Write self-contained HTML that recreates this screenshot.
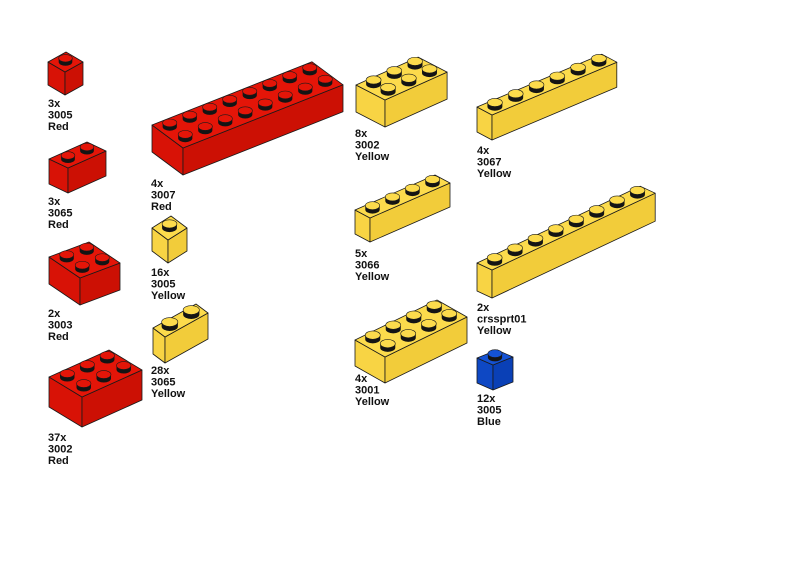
<!DOCTYPE html>
<html><head><meta charset="utf-8"><style>
html,body{margin:0;padding:0;background:#fff;width:800px;height:566px;overflow:hidden}
svg{display:block}
text{font-family:"Liberation Sans",Arial,sans-serif;font-weight:bold;font-size:11px;fill:#111}
</style></head><body>
<svg id="s" width="800" height="566" viewBox="0 0 800 566" xmlns="http://www.w3.org/2000/svg">
<g id="bricks"></g>
<g>
<text x="48" y="107">3x</text><text x="48" y="118.5">3005</text><text x="48" y="130">Red</text>
<text x="48" y="205">3x</text><text x="48" y="216.5">3065</text><text x="48" y="228">Red</text>
<text x="48" y="317">2x</text><text x="48" y="328.5">3003</text><text x="48" y="340">Red</text>
<text x="48" y="441">37x</text><text x="48" y="452.5">3002</text><text x="48" y="464">Red</text>
<text x="151" y="187">4x</text><text x="151" y="198.5">3007</text><text x="151" y="210">Red</text>
<text x="151" y="276">16x</text><text x="151" y="287.5">3005</text><text x="151" y="299">Yellow</text>
<text x="151" y="374">28x</text><text x="151" y="385.5">3065</text><text x="151" y="397">Yellow</text>
<text x="355" y="137">8x</text><text x="355" y="148.5">3002</text><text x="355" y="160">Yellow</text>
<text x="355" y="257">5x</text><text x="355" y="268.5">3066</text><text x="355" y="280">Yellow</text>
<text x="355" y="382">4x</text><text x="355" y="393.5">3001</text><text x="355" y="405">Yellow</text>
<text x="477" y="154">4x</text><text x="477" y="165.5">3067</text><text x="477" y="177">Yellow</text>
<text x="477" y="311">2x</text><text x="477" y="322.5">crssprt01</text><text x="477" y="334">Yellow</text>
<text x="477" y="402">12x</text><text x="477" y="413.5">3005</text><text x="477" y="425">Blue</text>
</g>
</svg>
<script>
var NS="http://www.w3.org/2000/svg",G=document.getElementById("bricks");
var C={r:["#e41508","#d81206","#cc1004"],y:["#fcdb4c","#f8d444","#f2cc3a"],b:["#1452d4","#0e48c4","#0a40b6"]};
function el(t,a){var e=document.createElementNS(NS,t);for(var k in a)e.setAttribute(k,a[k]);G.appendChild(e);return e;}
function P(pts){return pts.map(function(p){return p[0].toFixed(1)+","+p[1].toFixed(1)}).join(" ");}
function brick(F,a,b,na,nb,H,col){
 var c=C[col],st="#1a1a1a",sw=0.8;
 var R=[F[0]+na*a[0],F[1]+na*a[1]],L=[F[0]+nb*b[0],F[1]+nb*b[1]],B=[R[0]+nb*b[0],R[1]+nb*b[1]];
 el("polygon",{points:P([L,F,[F[0],F[1]+H],[L[0],L[1]+H]]),fill:c[1],stroke:st,"stroke-width":sw,"stroke-linejoin":"round"});
 el("polygon",{points:P([F,R,[R[0],R[1]+H],[F[0],F[1]+H]]),fill:c[2],stroke:st,"stroke-width":sw,"stroke-linejoin":"round"});
 el("polygon",{points:P([F,R,B,L]),fill:c[0],stroke:st,"stroke-width":sw,"stroke-linejoin":"round"});
 var pitch=Math.hypot(a[0],a[1]),rx=pitch*0.33,ry=rx*0.55,h=rx*0.55,s=[];
 for(var i=0;i<na;i++)for(var j=0;j<nb;j++)s.push([F[0]+(i+.5)*a[0]+(j+.5)*b[0],F[1]+(i+.5)*a[1]+(j+.5)*b[1]]);
 s.sort(function(p,q){return p[1]-q[1]});
 s.forEach(function(p){
  var x=p[0],y=p[1];
  el("path",{d:"M"+(x-rx)+","+(y-h)+" L"+(x-rx)+","+y+" A"+rx+","+ry+" 0 0 0 "+(x+rx)+","+y+" L"+(x+rx)+","+(y-h)+" Z",fill:"#141414"});
  el("ellipse",{cx:x,cy:y-h,rx:rx,ry:ry,fill:c[0],stroke:st,"stroke-width":0.6});
 });
}
brick([65,72],[18,-10],[-17,-10],1,1,23,"r");
brick([68,168],[19,-8.5],[-19,-9],2,1,25,"r");
brick([80,278],[20,-7.5],[-15.5,-10.5],2,2,27,"r");
brick([82,397],[20,-9],[-16.5,-10],3,2,30,"r");
brick([183,148],[20,-7.9],[-15.5,-11.5],8,2,27,"r");
brick([168,240],[19,-12],[-16,-12],1,1,23,"y");
brick([165,337],[21.5,-12],[-12,-9],2,1,26,"y");
brick([385,100],[20.7,-9.3],[-14.5,-7.5],3,2,27,"y");
brick([370,218],[20,-8.75],[-15,-8],4,1,24,"y");
brick([385,357],[20.5,-10],[-15,-8.5],4,2,26,"y");
brick([492,115],[20.8,-8.8],[-15,-8],6,1,25,"y");
brick([492,270],[20.4,-9.6],[-15,-7],8,1,28,"y");
brick([493,365],[20,-8],[-16,-7],1,1,25,"b");
</script>
</body></html>
